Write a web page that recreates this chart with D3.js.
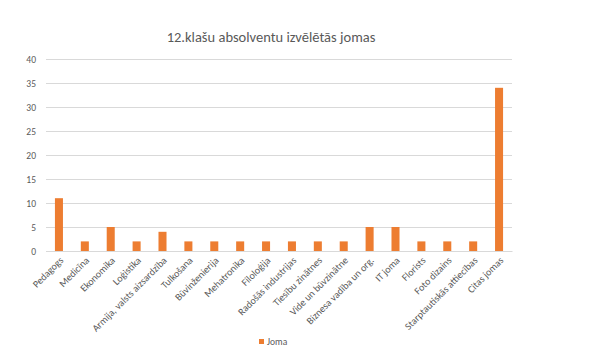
<!DOCTYPE html>
<html>
<head>
  <script src="https://d3js.org/d3.v7.min.js"></script>
  <style>
    html, body { margin: 0; padding: 0; background: #fff; overflow: hidden; }
    text { font-family: Calibri, Carlito, "Open Sans", sans-serif; }
  </style>
</head>
<body>
  <svg id="chart"></svg>
  <script>
    // chart data
    var categories = ["Pedagogs", "Medicīna", "Ekonomika", "Loģistika", "Armija, valsts aizsardzība",
      "Tulkošana", "Būvinženierija", "Mehatronika", "Filoloģija", "Radošās industrijas",
      "Tiesību zinātnes", "Vide un būvzinātne", "Biznesa vadība un org.", "IT joma",
      "Florists", "Foto dizains", "Starptautiskās attiecības", "Citas jomas"];
    var values = [11, 2, 5, 2, 4, 2, 2, 2, 2, 2, 2, 2, 5, 5, 2, 2, 2, 34];
    var yTicks = [0, 5, 10, 15, 20, 25, 30, 35, 40];
    var seriesName = "Joma";
    var title = "12.klašu absolventu izvēlētās jomas";

    var width = 600, height = 361;
    var plotLeft = 46, plotRight = 512, plotTop = 59, plotBottom = 251;
    var barColor = "#ED7D31";
    var textColor = "#595959";
    var font = "Calibri, Carlito, 'Open Sans', sans-serif";

    var svg = d3.select("#chart").attr("width", width).attr("height", height);

    var x = d3.scaleBand().domain(categories).range([plotLeft, plotRight]).paddingInner(0.69).paddingOuter(0.345);
    var y = d3.scaleLinear().domain([0, 40]).range([plotBottom, plotTop]);

    // title
    svg.append("text")
      .attr("x", 271).attr("y", 42)
      .attr("text-anchor", "middle")
      .attr("fill", textColor)
      .style("font-size", "14.5px")
      .text(title);

    // gridlines + y labels
    var yAxis = d3.axisLeft(y).tickValues(yTicks).tickSize(-(plotRight - plotLeft)).tickPadding(10);
    var gy = svg.append("g").attr("transform", "translate(" + plotLeft + ",0)").call(yAxis);
    gy.select(".domain").remove();
    gy.selectAll(".tick line").attr("stroke", "#d9d9d9").attr("stroke-width", 1);
    gy.selectAll(".tick text").attr("fill", textColor).style("font-size", "9.5px")
      .style("font-family", font);

    // bars
    svg.append("g").selectAll("rect")
      .data(values)
      .join("rect")
      .attr("x", (d, i) => x(categories[i]))
      .attr("width", x.bandwidth())
      .attr("y", d => y(d))
      .attr("height", d => y(0) - y(d))
      .attr("fill", barColor);

    // x axis
    var xAxis = d3.axisBottom(x).tickSize(0).tickPadding(0);
    var gx = svg.append("g").attr("transform", "translate(0," + plotBottom + ")").call(xAxis);
    gx.select(".domain").attr("stroke", "#d9d9d9");
    gx.selectAll(".tick text")
      .attr("fill", textColor)
      .style("font-size", "10px")
      .style("font-family", font)
      .attr("text-anchor", "end")
      .attr("dy", null)
      .attr("transform", "translate(5,10) rotate(-45)");

    // legend
    var lg = svg.append("g").attr("transform", "translate(259,339)");
    lg.append("rect").attr("width", 5).attr("height", 5).attr("fill", barColor);
    lg.append("text").attr("x", 8).attr("y", 6)
      .attr("fill", textColor).style("font-size", "9.5px").text(seriesName);
  </script>
</body>
</html>
